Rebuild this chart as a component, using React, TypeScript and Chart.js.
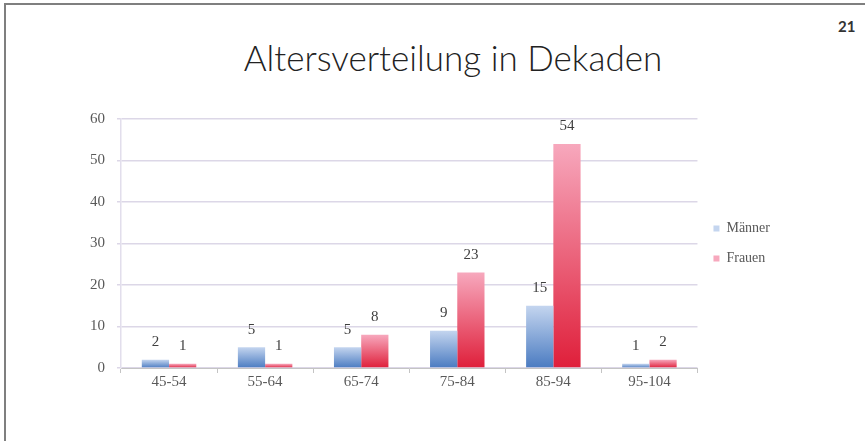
import React, { useEffect, useRef } from "react";
import { Chart, registerables } from "chart.js";

Chart.register(...registerables);

const categories = ["45-54", "55-64", "65-74", "75-84", "85-94", "95-104"];
const maenner = [2, 5, 5, 9, 15, 1];
const frauen = [1, 1, 8, 23, 54, 2];
const yTicks = [0, 10, 20, 30, 40, 50, 60];

const SERIF = "'Liberation Serif', 'DejaVu Serif', serif";

function gradientFill(top: string, bottom: string, fallback: string) {
  return (c: any) => {
    const chart = c.chart;
    if (!chart.chartArea || c.type !== "data") return fallback;
    const ys = chart.scales.y;
    const v = c.raw as number;
    const yTop = ys.getPixelForValue(v);
    const yBot = ys.getPixelForValue(0);
    if (!isFinite(yTop) || !isFinite(yBot) || yBot - yTop < 1) return fallback;
    const g = chart.ctx.createLinearGradient(0, yTop, 0, yBot);
    g.addColorStop(0, top);
    g.addColorStop(1, bottom);
    return g;
  };
}

const valueLabels = {
  id: "valueLabels",
  afterDatasetsDraw(chart: any) {
    const ctx = chart.ctx;
    ctx.save();
    ctx.font = `15px ${SERIF}`;
    ctx.fillStyle = "#3f3f3f";
    ctx.textAlign = "center";
    ctx.textBaseline = "bottom";
    chart.data.datasets.forEach((ds: any, i: number) => {
      const meta = chart.getDatasetMeta(i);
      meta.data.forEach((el: any, j: number) => {
        ctx.fillText(String(ds.data[j]), el.x, el.y - 10);
      });
    });
    ctx.restore();
  },
};

export default function App() {
  const ref = useRef<HTMLCanvasElement | null>(null);

  useEffect(() => {
    document.body.style.margin = "0";
    if (!ref.current) return;
    const chart = new Chart(ref.current, {
      type: "bar",
      data: {
        labels: categories,
        datasets: [
          {
            label: "Männer",
            data: maenner,
            backgroundColor: gradientFill("#c4d5ef", "#4a7bc1", "#7fa1d6"),
            borderWidth: 0,
          },
          {
            label: "Frauen",
            data: frauen,
            backgroundColor: gradientFill("#f7a8bd", "#df1f3a", "#ec6d85"),
            borderWidth: 0,
          },
        ],
      },
      options: {
        responsive: false,
        animation: false,
        layout: { padding: { left: 78, right: 85, top: 119, bottom: 50 } },
        datasets: {
          bar: { categoryPercentage: 0.567, barPercentage: 1 },
        },
        plugins: {
          title: { display: false },
          tooltip: { enabled: false },
          legend: {
            position: "right",
            fullSize: false,
            labels: {
              boxWidth: 6,
              boxHeight: 6,
              padding: 16,
              color: "#595959",
              font: { family: SERIF, size: 14 },
            },
          },
        },
        scales: {
          x: {
            grid: {
              drawOnChartArea: false,
              drawTicks: true,
              tickLength: 5,
              color: "#c4c4c4",
            },
            border: { color: "#c4c4c4", width: 1 },
            ticks: {
              color: "#595959",
              padding: 0,
              font: { family: SERIF, size: 15 },
            },
          },
          y: {
            min: 0,
            max: 60,
            afterBuildTicks: (axis: any) => {
              axis.ticks = yTicks.map((v) => ({ value: v }));
            },
            grid: {
              color: "#dcd7e7",
              lineWidth: 1.5,
              tickLength: 4,
            },
            border: { color: "#e2deec", width: 1.5 },
            ticks: {
              color: "#595959",
              padding: 12,
              font: { family: SERIF, size: 15 },
            },
          },
        },
      },
      plugins: [valueLabels],
    });
    return () => chart.destroy();
  }, []);

  return (
    <div
      style={{
        position: "absolute",
        left: 0,
        top: 0,
        width: 865,
        height: 441,
        overflow: "hidden",
        background: "#ffffff",
      }}
    >
      <div
        style={{
          position: "absolute",
          left: 4,
          top: 3,
          width: 859,
          height: 500,
          borderTop: "2px solid #7f7f7f",
          borderLeft: "2px solid #7f7f7f",
        }}
      />
      <div
        style={{
          position: "absolute",
          left: 453,
          top: 37,
          transform: "translateX(-50%)",
          whiteSpace: "nowrap",
          fontFamily: "Lato, 'Noto Sans', sans-serif",
          fontWeight: 300,
          fontSize: 35,
          lineHeight: "40px",
          color: "#222222",
        }}
      >
        Altersverteilung in Dekaden
      </div>
      <div
        style={{
          position: "absolute",
          left: 838,
          top: 17,
          fontFamily: "Lato, 'Noto Sans', sans-serif",
          fontWeight: 700,
          fontSize: 15,
          lineHeight: "18px",
          color: "#333333",
        }}
      >
        21
      </div>
      <canvas
        ref={ref}
        width={865}
        height={441}
        style={{ position: "absolute", left: 0, top: 0 }}
      />
    </div>
  );
}
